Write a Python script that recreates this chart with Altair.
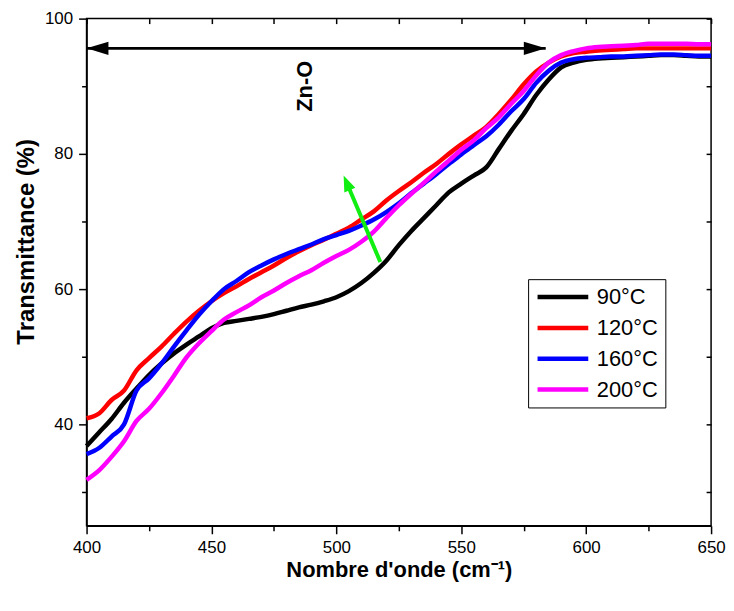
import altair as alt
import pandas as pd

# ---- data ----
wavenumber = list(range(400, 655, 5))

t_90 = [36.8, 38.8, 40.8, 43.2, 45.3, 47.3, 49.0, 50.5, 51.8, 53.0,
        54.2, 55.0, 55.3, 55.6, 55.9, 56.3, 56.8, 57.3, 57.7, 58.2,
        58.8, 59.7, 60.9, 62.4, 64.2, 66.5, 68.6, 70.5, 72.4, 74.3,
        75.6, 76.8, 78.0, 80.7, 83.4, 85.9, 88.7, 91.0, 92.8, 93.5,
        93.9, 94.1, 94.2, 94.3, 94.4, 94.5, 94.6, 94.6, 94.5, 94.4, 94.4]

t_120 = [40.9, 41.6, 43.6, 45.0, 48.0, 49.8, 51.5, 53.4, 55.2, 56.8,
         58.2, 59.4, 60.4, 61.5, 62.5, 63.5, 64.6, 65.6, 66.5, 67.3,
         68.2, 69.1, 70.3, 71.5, 73.1, 74.5, 75.8, 77.2, 78.5, 80.0,
         81.4, 82.7, 84.0, 85.9, 88.0, 90.3, 92.2, 93.5, 94.4, 94.9,
         95.1, 95.3, 95.4, 95.5, 95.6, 95.6, 95.6, 95.6, 95.6, 95.6, 95.6]

t_160 = [35.6, 36.5, 38.2, 40.0, 45.0, 46.8, 49.0, 51.5, 53.9, 56.2,
         58.2, 60.0, 61.2, 62.5, 63.5, 64.4, 65.2, 65.9, 66.6, 67.4,
         68.0, 68.6, 69.4, 70.3, 71.4, 72.7, 74.2, 75.6, 77.0, 78.5,
         79.9, 81.3, 82.6, 84.3, 86.3, 88.1, 90.5, 92.3, 93.5, 94.0,
         94.2, 94.3, 94.4, 94.4, 94.5, 94.6, 94.7, 94.7, 94.6, 94.5, 94.5]

t_200 = [31.8, 33.2, 35.2, 37.5, 40.5, 42.3, 44.6, 47.2, 49.9, 52.0,
         53.8, 55.5, 56.6, 57.6, 58.8, 59.8, 60.9, 61.9, 62.8, 63.9,
         64.9, 65.8, 67.0, 68.5, 70.5, 72.4, 74.1, 75.7, 77.4, 79.0,
         80.6, 82.0, 83.8, 85.4, 87.4, 89.3, 91.6, 93.5, 94.6, 95.2,
         95.6, 95.8, 95.9, 96.0, 96.1, 96.3, 96.3, 96.3, 96.3, 96.2, 96.2]

series_names = ["90°C", "120°C", "160°C", "200°C"]
series_colors = ["#000000", "#ff0000", "#0000ff", "#ff00ff"]

x_ticks = [400, 425, 450, 475, 500, 525, 550, 575, 600, 625, 650]
y_ticks = [30, 40, 50, 60, 70, 80, 90, 100]

# Zn-O band annotation (double arrow) and label
zno_x = [400, 583.8]
zno_y = [95.6, 95.6]
zno_label = ["Zn-O"]
zno_label_x = [487.4]
zno_label_y = [90.0]

# green trend arrow: tail, head base, tip
green_line_x = [517.6, 505.2]
green_line_y = [64.0, 74.8]
green_tip_x = [502.9]
green_tip_y = [76.8]

FONT = "Liberation Sans"

rows = []
for name, vals in zip(series_names, [t_90, t_120, t_160, t_200]):
    for w, v in zip(wavenumber, vals):
        rows.append({"wn": w, "T": v, "series": name, "order": series_names.index(name)})
df = pd.DataFrame(rows)

x_scale = alt.Scale(domain=[400, 650], nice=False)
y_scale = alt.Scale(domain=[25, 100], nice=False)

x_axis = alt.Axis(
    orient="bottom", values=x_ticks,
    labelExpr="datum.value % 50 === 0 ? datum.label : ''",
    tickSize={"condition": {"test": "datum.value % 50 === 0", "value": 8}, "value": 5},
    labelFlush=False, labelOverlap=False, grid=False,
    title="Nombre d'onde (cm⁻¹)", titleFontSize=22, titleFontWeight="bold",
    titlePadding=4, labelPadding=6,
)
y_axis = alt.Axis(
    orient="left", values=y_ticks,
    labelExpr="datum.value % 20 === 0 ? datum.label : ''",
    tickSize={"condition": {"test": "datum.value % 20 === 0", "value": 8}, "value": 5},
    labelOverlap=False, grid=False,
    title="Transmittance (%)", titleFontSize=24, titleFontWeight="bold",
    titlePadding=6, labelPadding=6, titleY=224,
)

lines = alt.Chart(df).mark_line(strokeWidth=4.5, interpolate="monotone").encode(
    x=alt.X("wn:Q", scale=x_scale, axis=x_axis),
    y=alt.Y("T:Q", scale=y_scale, axis=y_axis),
    color=alt.Color(
        "series:N",
        scale=alt.Scale(domain=series_names, range=series_colors),
        sort=series_names,
        legend=alt.Legend(
            title=None, orient="none", legendX=444, legendY=262,
            symbolType="stroke", symbolSize=2601, symbolStrokeWidth=4.5,
            labelFontSize=22, labelFont=FONT, labelColor="black",
            strokeColor="black", fillColor="white", padding=7,
            rowPadding=9, labelOffset=6, cornerRadius=0, clipHeight=22,
        ),
    ),
    order=alt.Order("order:Q"),
)

# double arrow for Zn-O band, also carries the mirrored inward ticks (top/right)
zno_df = pd.DataFrame({"x1": [zno_x[0]], "x2": [zno_x[1]], "y": [zno_y[0]]})
zno_rule = alt.Chart(zno_df).mark_rule(color="black", strokeWidth=3).encode(
    x=alt.X("x1:Q", scale=x_scale, axis=alt.Axis(
        orient="top", values=x_ticks, labels=False, domain=False, tickSize=5,
        offset=-5, title=None, grid=False)),
    x2="x2:Q",
    y=alt.Y("y:Q", scale=y_scale, axis=alt.Axis(
        orient="right", values=y_ticks, labels=False, domain=False, tickSize=5,
        offset=-5, title=None, grid=False)),
)

heads_df = pd.DataFrame({
    "x": zno_x, "y": zno_y,
    "shape": ["M0,0L2,-0.6L2,0.6Z", "M0,0L-2,-0.6L-2,0.6Z"],
})
zno_heads = alt.Chart(heads_df).mark_point(filled=True, size=484, color="black", opacity=1, strokeWidth=0).encode(
    x=alt.X("x:Q", scale=x_scale, axis=None),
    y=alt.Y("y:Q", scale=y_scale, axis=None),
    shape=alt.Shape("shape:N", scale=None),
)

label_df = pd.DataFrame({"x": zno_label_x, "y": zno_label_y, "t": zno_label})
zno_text = alt.Chart(label_df).mark_text(
    angle=270, font=FONT, fontSize=22, fontWeight="bold", color="black",
    align="center", baseline="middle",
).encode(
    x=alt.X("x:Q", scale=x_scale, axis=None),
    y=alt.Y("y:Q", scale=y_scale, axis=None),
    text="t:N",
)

green_df = pd.DataFrame({"x1": [green_line_x[0]], "x2": [green_line_x[1]],
                         "y1": [green_line_y[0]], "y2": [green_line_y[1]]})
green_rule = alt.Chart(green_df).mark_rule(color="#11ee11", strokeWidth=4).encode(
    x=alt.X("x1:Q", scale=x_scale, axis=None), x2="x2:Q",
    y=alt.Y("y1:Q", scale=y_scale, axis=None), y2="y2:Q",
)
green_tip_df = pd.DataFrame({"x": green_tip_x, "y": green_tip_y})
green_head = alt.Chart(green_tip_df).mark_point(
    filled=True, size=256, color="#11ee11", opacity=1, strokeWidth=0,
    shape="M0,0L-0.75,2L0.75,2Z", angle=337,
).encode(
    x=alt.X("x:Q", scale=x_scale, axis=None),
    y=alt.Y("y:Q", scale=y_scale, axis=None),
)

chart = alt.layer(lines, zno_rule, zno_heads, zno_text, green_rule, green_head).properties(
    width=628, height=510,
    autosize=alt.AutoSizeParams(type="none"),
    padding={"left": 79, "top": 9, "right": 15, "bottom": 84},
).configure_view(
    stroke="black", strokeWidth=1.5,
).configure_axis(
    domainColor="black", domainWidth=1.5, tickColor="black", tickWidth=1.5,
    labelColor="black", labelFont=FONT, labelFontSize=17,
    titleColor="black", titleFont=FONT,
)

chart.save("out.html", embed_options={"renderer": "svg", "actions": False})
